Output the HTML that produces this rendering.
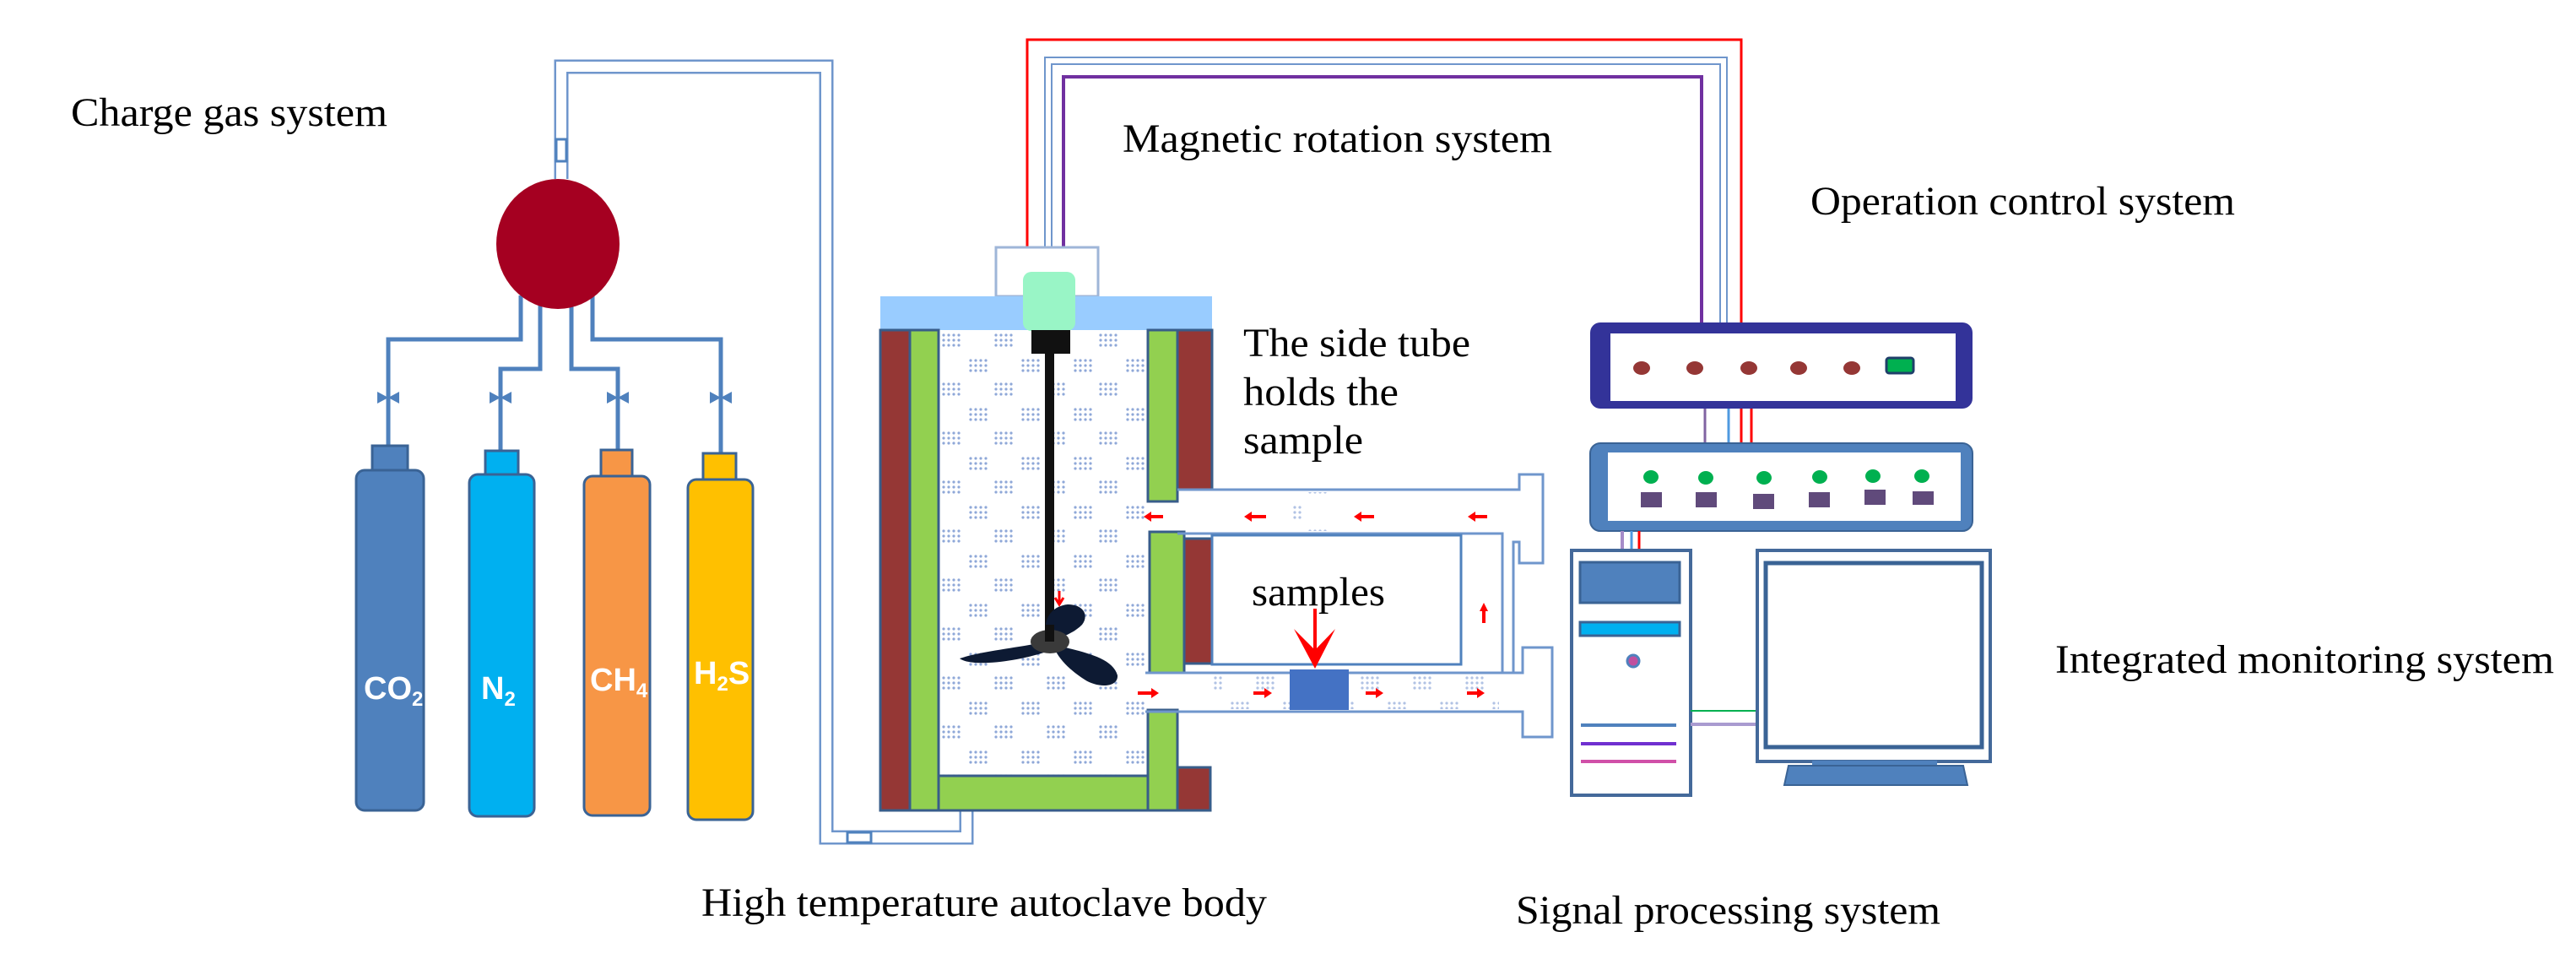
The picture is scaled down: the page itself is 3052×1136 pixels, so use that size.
<!DOCTYPE html>
<html><head><meta charset="utf-8"><style>html,body{margin:0;padding:0;background:#fff}svg{display:block}</style></head>
<body>
<svg xmlns="http://www.w3.org/2000/svg" width="3052" height="1136" viewBox="0 0 3052 1136">
<defs>
<pattern id="dots" x="1112" y="391" width="62" height="58" patternUnits="userSpaceOnUse">
<g fill="#8fa8d8"><circle cx="6" cy="6" r="1.6"/><circle cx="12" cy="6" r="1.6"/><circle cx="18" cy="6" r="1.6"/><circle cx="24" cy="6" r="1.6"/><circle cx="6" cy="12" r="1.6"/><circle cx="12" cy="12" r="1.6"/><circle cx="18" cy="12" r="1.6"/><circle cx="24" cy="12" r="1.6"/><circle cx="6" cy="18" r="1.6"/><circle cx="12" cy="18" r="1.6"/><circle cx="18" cy="18" r="1.6"/><circle cx="24" cy="18" r="1.6"/>
<circle cx="38" cy="36" r="1.6"/><circle cx="44" cy="36" r="1.6"/><circle cx="50" cy="36" r="1.6"/><circle cx="56" cy="36" r="1.6"/><circle cx="38" cy="42" r="1.6"/><circle cx="44" cy="42" r="1.6"/><circle cx="50" cy="42" r="1.6"/><circle cx="56" cy="42" r="1.6"/><circle cx="38" cy="48" r="1.6"/><circle cx="44" cy="48" r="1.6"/><circle cx="50" cy="48" r="1.6"/><circle cx="56" cy="48" r="1.6"/></g>
</pattern>
</defs>
<rect width="3052" height="1136" fill="#fff"/>
<g font-family="Liberation Serif, serif" font-size="48" fill="#000">
<text x="84" y="149" textLength="375" lengthAdjust="spacingAndGlyphs">Charge gas system</text>
<text x="1330" y="180" textLength="509" lengthAdjust="spacingAndGlyphs">Magnetic rotation system</text>
<text x="2145" y="254" textLength="503" lengthAdjust="spacingAndGlyphs">Operation control system</text>
<text x="1473" y="422" textLength="269" lengthAdjust="spacingAndGlyphs">The side tube</text>
<text x="1473" y="480" textLength="184" lengthAdjust="spacingAndGlyphs">holds the</text>
<text x="1473" y="537" textLength="142" lengthAdjust="spacingAndGlyphs">sample</text>
<text x="1483" y="717" textLength="158" lengthAdjust="spacingAndGlyphs">samples</text>
<text x="2435" y="797" textLength="591" lengthAdjust="spacingAndGlyphs">Integrated monitoring system</text>
<text x="831" y="1085" textLength="670" lengthAdjust="spacingAndGlyphs">High temperature autoclave body</text>
<text x="1796" y="1094" textLength="503" lengthAdjust="spacingAndGlyphs">Signal processing system</text>
</g>

<!-- main gas pipe -->
<polyline points="665,212 665,79 979,79 979,992 1145,992 1145,960" fill="none" stroke="#6f96cc" stroke-width="17"/>
<polyline points="665,212 665,79 979,79 979,992 1145,992 1145,960" fill="none" stroke="#fff" stroke-width="12"/>
<rect x="659" y="165" width="12" height="26" fill="#fff" stroke="#4f81bd" stroke-width="3"/>
<rect x="1004" y="986" width="28" height="12" fill="#fff" stroke="#4f81bd" stroke-width="3"/>

<!-- branch pipes -->
<g fill="none" stroke="#4f81bd" stroke-width="5">
<polyline points="617,350 617,402 460,402 460,528"/>
<polyline points="640,350 640,437 593,437 593,534"/>
<polyline points="677,350 677,437 732,437 732,533"/>
<polyline points="702,350 702,402 854,402 854,537"/>
</g>
<g fill="#4f81bd">
<path d="M447,464 L460,471 L447,478Z M473,464 L460,471 L473,478Z"/>
<path d="M580,464 L593,471 L580,478Z M606,464 L593,471 L606,478Z"/>
<path d="M719,464 L732,471 L719,478Z M745,464 L732,471 L745,478Z"/>
<path d="M841,464 L854,471 L841,478Z M867,464 L854,471 L867,478Z"/>
</g>
<ellipse cx="661" cy="289" rx="73" ry="77" fill="#a50021"/>

<!-- cylinders -->
<g stroke="#3a6395" stroke-width="3">
<rect x="441" y="528" width="42" height="30" fill="#4f81bd"/>
<rect x="422" y="557" width="80" height="403" rx="10" fill="#4f81bd"/>
<rect x="575" y="534" width="39" height="29" fill="#00b0f0"/>
<rect x="556" y="562" width="77" height="405" rx="10" fill="#00b0f0"/>
<rect x="712" y="533" width="37" height="31" fill="#f79646"/>
<rect x="692" y="564" width="78" height="402" rx="10" fill="#f79646"/>
<rect x="833" y="537" width="39" height="31" fill="#ffc000"/>
<rect x="815" y="568" width="77" height="403" rx="10" fill="#ffc000"/>
</g>
<g font-family="Liberation Sans, sans-serif" font-weight="bold" fill="#fff" font-size="38">
<text x="431" y="828">CO<tspan font-size="24" dy="8">2</tspan></text>
<text x="570" y="828">N<tspan font-size="24" dy="8">2</tspan></text>
<text x="699" y="818">CH<tspan font-size="24" dy="8">4</tspan></text>
<text x="822" y="810">H<tspan font-size="24" dy="8">2</tspan><tspan dy="-8">S</tspan></text>
</g>

<!-- wires top -->
<polyline points="1217,293 1217,47 2063,47 2063,525" fill="none" stroke="#ff0000" stroke-width="3"/>
<polyline points="1242,293 1242,72 2042,72 2042,382" fill="none" stroke="#6f96cc" stroke-width="10"/>
<polyline points="1242,293 1242,72 2042,72 2042,382" fill="none" stroke="#fff" stroke-width="6"/>
<polyline points="1260,293 1260,91 2016,91 2016,382" fill="none" stroke="#7030a0" stroke-width="4"/>

<!-- autoclave -->
<rect x="1112" y="391" width="248" height="528" fill="#fff"/>
<rect x="1112" y="391" width="248" height="528" fill="url(#dots)"/>
<rect x="1180" y="293" width="121" height="58" fill="#fff" stroke="#9fb6d8" stroke-width="3"/>
<rect x="1043" y="351" width="393" height="40" fill="#99ccff"/>
<rect x="1212" y="322" width="62" height="70" rx="10" fill="#99f5c6"/>
<g stroke="#385d8a" stroke-width="3">
<rect x="1043" y="391" width="35" height="569" fill="#953735"/>
<rect x="1078" y="391" width="34" height="569" fill="#92d050"/>
<rect x="1112" y="919" width="248" height="41" fill="#92d050"/>
<rect x="1360" y="391" width="35" height="203" fill="#92d050"/>
<rect x="1395" y="391" width="41" height="189" fill="#953735"/>
<rect x="1362" y="630" width="41" height="167" fill="#92d050"/>
<rect x="1403" y="638" width="33" height="148" fill="#953735"/>
<rect x="1360" y="841" width="35" height="119" fill="#92d050"/>
<rect x="1395" y="909" width="39" height="51" fill="#953735"/>
</g>
<rect x="1222" y="391" width="46" height="28" fill="#111"/>
<rect x="1238" y="419" width="11" height="340" fill="#111"/>
<g fill="#0d1a33">
<path d="M1230,762 C1200,768 1160,772 1137,780 C1150,790 1200,785 1240,772Z"/>
<path d="M1255,765 C1280,772 1318,778 1324,800 C1325,815 1300,815 1285,805 C1270,795 1258,785 1250,770Z"/>
<path d="M1240,752 C1235,735 1245,718 1265,716 C1285,716 1290,730 1282,740 C1272,750 1258,755 1248,758Z"/>
</g>
<ellipse cx="1244" cy="760" rx="23" ry="14" fill="#3a3a3a"/>
<rect x="1238" y="740" width="11" height="20" fill="#111"/>
<path d="M1255,700 L1255,714 M1250,708 L1255,716 L1260,708" stroke="#f00" stroke-width="3" fill="none"/>

<!-- side tube -->
<g fill="none" stroke="#6f96cc" stroke-width="3">
<path d="M1395,580 L1800,580 L1800,562 L1828,562 L1828,667 L1800,667 L1800,642 L1793,642 L1793,797"/>
<path d="M1395,632 L1780,632 L1780,797"/>
<rect x="1436" y="634" width="295" height="153" stroke="#4f81bd"/>
<path d="M1357,797 L1804,797 L1804,767 L1839,767 L1839,873 L1804,873 L1804,843 L1357,843"/>
</g>
<rect x="1530" y="583" width="44" height="46" fill="url(#dots)" opacity="0.7"/>
<rect x="1436" y="800" width="340" height="40" fill="url(#dots)" opacity="0.7"/>
<rect x="1528" y="793" width="70" height="48" fill="#4472c4"/>
<g stroke="#f00" stroke-width="4" fill="#f00">
<line x1="1558" y1="721" x2="1558" y2="770"/>
<path d="M1533,745 L1558,792 L1582,745 L1558,770Z" stroke="none"/>
<line x1="1362" y1="612" x2="1378" y2="612"/><path d="M1355,612 L1364,606 L1364,618Z" stroke="none"/>
<line x1="1480" y1="612" x2="1500" y2="612"/><path d="M1474,612 L1483,606 L1483,618Z" stroke="none"/>
<line x1="1610" y1="612" x2="1628" y2="612"/><path d="M1604,612 L1613,606 L1613,618Z" stroke="none"/>
<line x1="1745" y1="612" x2="1762" y2="612"/><path d="M1739,612 L1748,606 L1748,618Z" stroke="none"/>
<line x1="1348" y1="821" x2="1366" y2="821"/><path d="M1373,821 L1364,815 L1364,827Z" stroke="none"/>
<line x1="1485" y1="821" x2="1500" y2="821"/><path d="M1507,821 L1498,815 L1498,827Z" stroke="none"/>
<line x1="1618" y1="821" x2="1632" y2="821"/><path d="M1639,821 L1630,815 L1630,827Z" stroke="none"/>
<line x1="1738" y1="821" x2="1752" y2="821"/><path d="M1759,821 L1750,815 L1750,827Z" stroke="none"/>
<line x1="1758" y1="722" x2="1758" y2="738"/><path d="M1758,714 L1753,724 L1763,724Z" stroke="none"/>
</g>

<!-- operation control device -->
<rect x="1884" y="382" width="453" height="102" rx="12" fill="#333399"/>
<rect x="1908" y="395" width="409" height="80" fill="#fff"/>
<g fill="#953735">
<ellipse cx="1945" cy="436" rx="10" ry="8"/><ellipse cx="2008" cy="436" rx="10" ry="8"/><ellipse cx="2072" cy="436" rx="10" ry="8"/><ellipse cx="2131" cy="436" rx="10" ry="8"/><ellipse cx="2194" cy="436" rx="10" ry="8"/>
</g>
<rect x="2235" y="424" width="32" height="18" rx="3" fill="#00b050" stroke="#1f3f6a" stroke-width="3"/>
<line x1="2020" y1="484" x2="2020" y2="525" stroke="#8064a2" stroke-width="3"/>
<line x1="2048" y1="484" x2="2048" y2="525" stroke="#4f9ae0" stroke-width="3"/>
<line x1="2075" y1="484" x2="2075" y2="525" stroke="#ff0000" stroke-width="3"/>

<!-- signal device -->
<rect x="1884" y="525" width="453" height="104" rx="12" fill="#4f81bd" stroke="#3a6395" stroke-width="2"/>
<rect x="1905" y="536" width="418" height="81" fill="#fff"/>
<g fill="#00b050">
<ellipse cx="1956" cy="565" rx="9" ry="8"/><ellipse cx="2021" cy="566" rx="9" ry="8"/><ellipse cx="2090" cy="566" rx="9" ry="8"/><ellipse cx="2156" cy="565" rx="9" ry="8"/><ellipse cx="2219" cy="564" rx="9" ry="8"/><ellipse cx="2277" cy="564" rx="9" ry="8"/>
</g>
<g fill="#604a7b">
<rect x="1944" y="583" width="25" height="18"/><rect x="2009" y="583" width="25" height="18"/><rect x="2077" y="585" width="25" height="18"/><rect x="2143" y="583" width="25" height="18"/><rect x="2209" y="580" width="25" height="18"/><rect x="2266" y="582" width="25" height="16"/>
</g>
<line x1="1922" y1="629" x2="1922" y2="651" stroke="#a68cc8" stroke-width="4"/>
<line x1="1933" y1="629" x2="1933" y2="651" stroke="#4f9ae0" stroke-width="3"/>
<line x1="1942" y1="629" x2="1942" y2="651" stroke="#ff0000" stroke-width="3"/>

<!-- computer -->
<rect x="1862" y="652" width="141" height="290" fill="#fff" stroke="#44699a" stroke-width="4"/>
<rect x="1872" y="666" width="118" height="48" fill="#4f81bd" stroke="#3a6395" stroke-width="3"/>
<rect x="1872" y="737" width="118" height="16" fill="#00b0f0" stroke="#3a6395" stroke-width="3"/>
<circle cx="1935" cy="783" r="7" fill="#c0509f" stroke="#4f81bd" stroke-width="3"/>
<line x1="1873" y1="859" x2="1986" y2="859" stroke="#4f81bd" stroke-width="4"/>
<line x1="1873" y1="881" x2="1986" y2="881" stroke="#7030d0" stroke-width="4"/>
<line x1="1873" y1="902" x2="1986" y2="902" stroke="#d050a8" stroke-width="4"/>
<line x1="2003" y1="842" x2="2082" y2="842" stroke="#00b050" stroke-width="2"/>
<line x1="2003" y1="858" x2="2082" y2="858" stroke="#a99bd0" stroke-width="4"/>

<!-- monitor -->
<rect x="2082" y="652" width="276" height="250" fill="#fff" stroke="#44699a" stroke-width="4"/>
<rect x="2092" y="667" width="256" height="218" fill="#fff" stroke="#3a6395" stroke-width="5"/>
<rect x="2147" y="901" width="148" height="7" fill="#4f81bd"/>
<path d="M2119,907 L2326,907 L2331,930 L2114,930Z" fill="#4f81bd" stroke="#3a6395" stroke-width="2"/>
</svg>
</body></html>
